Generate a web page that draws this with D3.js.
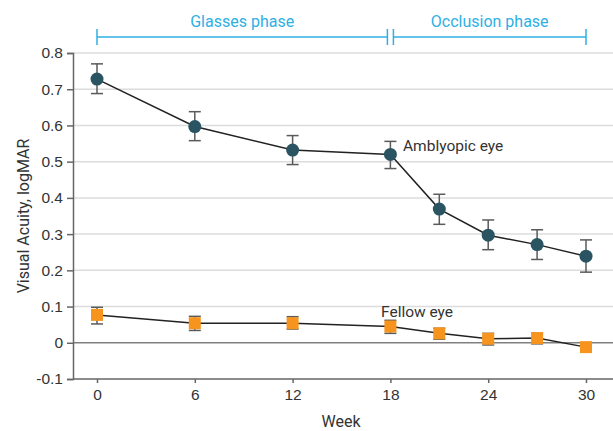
<!DOCTYPE html>
<html>
<head>
<meta charset="utf-8">
<script src="https://cdn.jsdelivr.net/npm/d3@7"></script>
<style>
  body { margin: 0; background: #fff; }
  svg { display: block; font-family: "Liberation Sans Narrow", "Roboto", sans-serif; }
</style>
</head>
<body>
<div id="chart"></div>
<script>
// Visual acuity by week — amblyopic vs fellow eye
const weeks = [0, 6, 12, 18, 21, 24, 27, 30];
const amblyopic = [0.728, 0.597, 0.532, 0.520, 0.369, 0.297, 0.271, 0.239];
const amblyopicLo = [0.688, 0.558, 0.492, 0.481, 0.327, 0.257, 0.230, 0.195];
const amblyopicHi = [0.770, 0.638, 0.572, 0.556, 0.410, 0.339, 0.312, 0.284];
const fellow = [0.077, 0.054, 0.054, 0.045, 0.026, 0.011, 0.013, -0.012];
const fellowLo = [0.052, 0.034, 0.038, 0.026, 0.010, -0.006, -0.003, -0.025];
const fellowHi = [0.098, 0.073, 0.072, 0.062, 0.040, 0.026, 0.026, -0.002];
const yTicks = [-0.1, 0, 0.1, 0.2, 0.3, 0.4, 0.5, 0.6, 0.7, 0.8];
const xTicks = [0, 6, 12, 18, 24, 30];
const phases = [
  { name: "Glasses phase", from: 0, to: 18 },
  { name: "Occlusion phase", from: 18, to: 30 },
];

(function () {
  const width = 613, height = 431;
  const left = 73, right = 613, plotTop = 53, plotBottom = 379;

  const svg = d3.select("#chart").append("svg")
    .attr("width", width).attr("height", height);

  const x = d3.scaleLinear().domain([0, 30]).range([97, 586]);
  const y = d3.scaleLinear().domain([-0.1, 0.8]).range([plotBottom, plotTop]);

  // gridlines
  svg.append("g")
    .selectAll("line")
    .data(yTicks.filter((t) => t > -0.1))
    .join("line")
    .attr("x1", left).attr("x2", right)
    .attr("y1", (d) => y(d)).attr("y2", (d) => y(d))
    .attr("stroke", (d) => (d === 0 ? "#808080" : "#dcdcdc"))
    .attr("stroke-width", 1.5);

  // y axis
  const yAxis = svg.append("g")
    .attr("transform", `translate(${left},0)`)
    .call(d3.axisLeft(y).tickValues(yTicks).tickSize(6).tickPadding(4)
      .tickFormat((d) => (d === 0 ? "0" : d.toFixed(1))));
  yAxis.select(".domain").attr("stroke", "#666").attr("stroke-width", 1.5);
  yAxis.selectAll(".tick line").attr("stroke", "#666").attr("stroke-width", 1.5);
  yAxis.selectAll("text").attr("font-size", 15.5).attr("fill", "#333")
    .attr("font-family", "inherit");

  // x axis
  const xAxis = svg.append("g")
    .attr("transform", `translate(0,${plotBottom})`)
    .call(d3.axisBottom(x).tickValues(xTicks).tickSize(4).tickPadding(6));
  xAxis.select(".domain").attr("d", `M${left},0H${right}`)
    .attr("stroke", "#666").attr("stroke-width", 1.5);
  xAxis.selectAll(".tick line").attr("stroke", "#666").attr("stroke-width", 1.5);
  xAxis.selectAll("text").attr("font-size", 15.5).attr("fill", "#333")
    .attr("font-family", "inherit");

  svg.append("text")
    .attr("x", 341).attr("y", 427)
    .attr("text-anchor", "middle")
    .attr("font-size", 16).attr("fill", "#333")
    .text("Week");

  svg.append("text")
    .attr("transform", `translate(29,${(plotTop + plotBottom) / 2}) rotate(-90)`)
    .attr("text-anchor", "middle")
    .attr("font-size", 16).attr("fill", "#333")
    .text("Visual Acuity, logMAR");

  // phase brackets
  const phaseColor = "#2eb0e4";
  const bY = 37;
  phases.forEach((p, i) => {
    const x0 = x(p.from) + (i > 0 ? 3 : 0);
    const x1 = x(p.to) - (i < phases.length - 1 ? 3 : 0);
    const g = svg.append("g").attr("stroke", phaseColor).attr("stroke-width", 1.5);
    g.append("line").attr("x1", x0).attr("x2", x1).attr("y1", bY).attr("y2", bY);
    g.append("line").attr("x1", x0).attr("x2", x0).attr("y1", bY - 8).attr("y2", bY + 8);
    g.append("line").attr("x1", x1).attr("x2", x1).attr("y1", bY - 8).attr("y2", bY + 8);
    svg.append("text")
      .attr("x", (x0 + x1) / 2).attr("y", 27)
      .attr("text-anchor", "middle")
      .attr("font-size", 16).attr("fill", phaseColor)
      .text(p.name);
  });

  function drawSeries(vals, lo, hi, shape, fill) {
    const pts = weeks.map((w, i) => ({ w, v: vals[i], lo: lo[i], hi: hi[i] }));
    svg.append("path")
      .datum(pts)
      .attr("fill", "none")
      .attr("stroke", "#222")
      .attr("stroke-width", 1.5)
      .attr("d", d3.line().x((d) => x(d.w)).y((d) => y(d.v)));

    const eb = svg.append("g").attr("stroke", "#5a5a5a").attr("stroke-width", 1.5);
    eb.selectAll(".v").data(pts).join("line")
      .attr("x1", (d) => x(d.w)).attr("x2", (d) => x(d.w))
      .attr("y1", (d) => y(d.lo)).attr("y2", (d) => y(d.hi));
    eb.selectAll(".t").data(pts).join("line")
      .attr("x1", (d) => x(d.w) - 6).attr("x2", (d) => x(d.w) + 6)
      .attr("y1", (d) => y(d.hi)).attr("y2", (d) => y(d.hi));
    eb.selectAll(".b").data(pts).join("line")
      .attr("x1", (d) => x(d.w) - 6).attr("x2", (d) => x(d.w) + 6)
      .attr("y1", (d) => y(d.lo)).attr("y2", (d) => y(d.lo));

    if (shape === "circle") {
      svg.append("g").selectAll("circle").data(pts).join("circle")
        .attr("cx", (d) => x(d.w)).attr("cy", (d) => y(d.v))
        .attr("r", 6.5).attr("fill", fill);
    } else {
      svg.append("g").selectAll("rect").data(pts).join("rect")
        .attr("x", (d) => x(d.w) - 6).attr("y", (d) => y(d.v) - 6)
        .attr("width", 12).attr("height", 12).attr("fill", fill);
    }
  }

  drawSeries(amblyopic, amblyopicLo, amblyopicHi, "circle", "#2b5462");
  drawSeries(fellow, fellowLo, fellowHi, "rect", "#f7941d");

  svg.append("text")
    .attr("x", 403).attr("y", 151)
    .attr("font-size", 15.5).attr("fill", "#333")
    .text("Amblyopic eye");
  svg.append("text")
    .attr("x", 381).attr("y", 317)
    .attr("font-size", 15.5).attr("fill", "#333")
    .text("Fellow eye");
})();
</script>
</body>
</html>
